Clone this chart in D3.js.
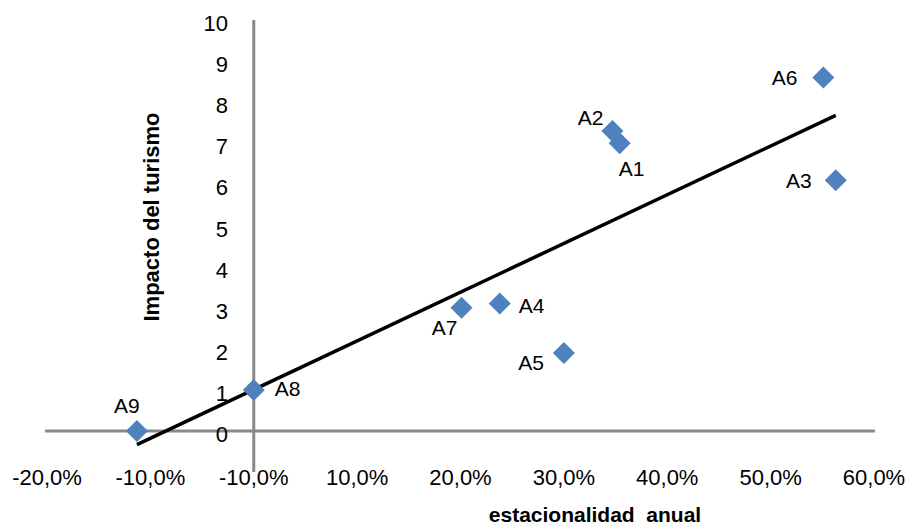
<!DOCTYPE html>
<html>
<head>
<meta charset="utf-8">
<script src="https://cdn.jsdelivr.net/npm/d3@7"></script>
<style>
  body { margin: 0; background: #fff; }
  svg { display: block; font-family: "Liberation Sans", Arial, sans-serif; }
</style>
</head>
<body>
<svg width="911" height="529"></svg>
<script>
// data
const names = ["A1", "A2", "A3", "A4", "A5", "A6", "A7", "A8", "A9"];
const estacionalidad = [0.354, 0.347, 0.563, 0.238, 0.300, 0.551, 0.201, 0.000, -0.113];
const impacto = [7.0, 7.3, 6.1, 3.1, 1.9, 8.6, 3.0, 1.0, 0.0];
const xTicks = [-0.2, -0.1, 0, 0.1, 0.2, 0.3, 0.4, 0.5, 0.6];
const xTickLabels = ["-20,0%", "-10,0%", "-10,0%", "10,0%", "20,0%", "30,0%", "40,0%", "50,0%", "60,0%"];
const yTicks = [0, 1, 2, 3, 4, 5, 6, 7, 8, 9, 10];

// where each point label sits (dx, dy, anchor)
const labelPlace = {
  A1: [12, 33, "middle"], A2: [-9, -6, "end"], A3: [-24, 8, "end"],
  A4: [19, 9, "start"], A5: [-20, 17, "end"], A6: [-26, 7, "end"],
  A7: [-4, 27, "end"], A8: [21, 6, "start"], A9: [-10, -18, "middle"]
};

const svg = d3.select("svg");
const x = d3.scaleLinear().domain([-0.2, 0.6]).range([47, 874]);
const y = d3.scaleLinear().domain([0, 10]).range([431, 20]);
const grey = "#898989";

// axis lines
svg.append("line")
  .attr("x1", 45).attr("x2", 875)
  .attr("y1", y(0)).attr("y2", y(0))
  .attr("stroke", grey).attr("stroke-width", 3);
svg.append("line")
  .attr("x1", x(0)).attr("x2", x(0))
  .attr("y1", y(10)).attr("y2", 472)
  .attr("stroke", grey).attr("stroke-width", 3);

// tick labels
svg.append("g").selectAll("text")
  .data(xTicks).enter()
  .append("text")
  .attr("x", d => x(d))
  .attr("y", 485)
  .attr("text-anchor", "middle")
  .attr("font-size", 22)
  .attr("fill", "#000")
  .text((d, i) => xTickLabels[i]);

svg.append("g").selectAll("text")
  .data(yTicks).enter()
  .append("text")
  .attr("x", 228)
  .attr("y", d => y(d) + 11)
  .attr("text-anchor", "end")
  .attr("font-size", 22)
  .attr("fill", "#000")
  .text(d => d);

// trend line (least squares)
const n = names.length;
const mx = d3.mean(estacionalidad), my = d3.mean(impacto);
let sxy = 0, sxx = 0;
for (let i = 0; i < n; i++) {
  sxy += (estacionalidad[i] - mx) * (impacto[i] - my);
  sxx += (estacionalidad[i] - mx) ** 2;
}
const slope = sxy / sxx, icpt = my - slope * mx;
const [x0, x1] = d3.extent(estacionalidad);
svg.append("line")
  .attr("x1", x(x0)).attr("y1", y(icpt + slope * x0))
  .attr("x2", x(x1)).attr("y2", y(icpt + slope * x1))
  .attr("stroke", "#000").attr("stroke-width", 3.5);

// points
const pts = names.map((d, i) => ({ name: d, ex: estacionalidad[i], im: impacto[i] }));
const diamond = d3.symbol().type(d3.symbolSquare).size(242);
svg.append("g").selectAll("path")
  .data(pts).enter()
  .append("path")
  .attr("d", diamond)
  .attr("transform", d => "translate(" + x(d.ex) + "," + y(d.im) + ") rotate(45)")
  .attr("fill", "#4F81BD");

svg.append("g").selectAll("text")
  .data(pts).enter()
  .append("text")
  .attr("x", d => x(d.ex) + labelPlace[d.name][0])
  .attr("y", d => y(d.im) + labelPlace[d.name][1])
  .attr("text-anchor", d => labelPlace[d.name][2])
  .attr("font-size", 21)
  .attr("fill", "#000")
  .text(d => d.name);

// axis titles
svg.append("text")
  .attr("x", 595).attr("y", 522)
  .attr("text-anchor", "middle")
  .attr("font-size", 21).attr("font-weight", "bold")
  .style("white-space", "pre")
  .text("estacionalidad  anual");
svg.append("text")
  .attr("transform", "translate(159,217) rotate(-90)")
  .attr("text-anchor", "middle")
  .attr("font-size", 22).attr("font-weight", "bold")
  .text("Impacto del turismo");
</script>
</body>
</html>
